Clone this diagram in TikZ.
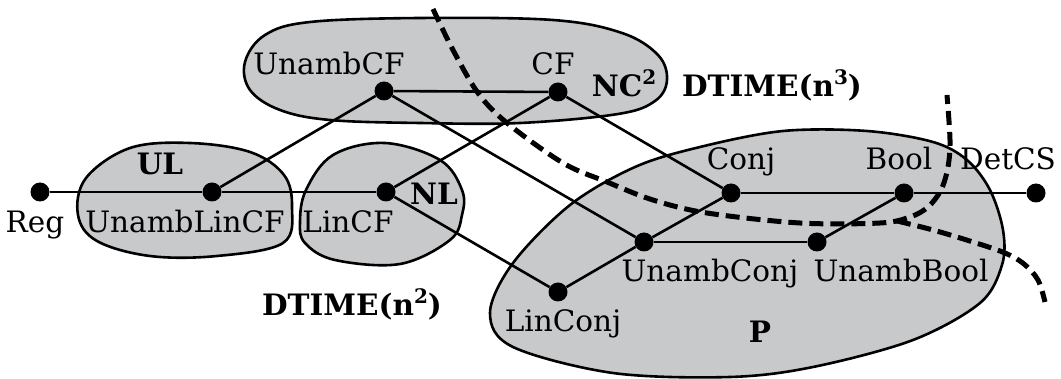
\documentclass[tikz,border=0pt]{standalone}
\usepackage{fontspec}
\setmainfont{DejaVu Serif}
\definecolor{blobgray}{RGB}{200,201,203}
\newcommand{\supd}[1]{\raisebox{0.42em}{\fontsize{20}{20}\selectfont #1}}
\begin{document}
\begin{tikzpicture}[x=1pt,y=-1pt,
  dot/.style={circle,fill=black,inner sep=0pt,minimum size=19pt},
  lbl/.style={font=\fontsize{29.5}{31}\selectfont, inner sep=0pt, anchor=base},
  blbl/.style={font=\fontsize{29.5}{31}\selectfont\bfseries, inner sep=0pt, anchor=base},
  edge/.style={line width=2.6pt},
  blob/.style={fill=blobgray, draw=black, line width=2.6pt},
  sep/.style={line width=5pt, dash pattern=on 14pt off 7pt}]
\useasboundingbox (0,0) rectangle (1061,379);

% blobs
\draw[blob] plot[smooth cycle, tension=0.6] coordinates {
  (245,62) (265,35) (310,22) (420,18) (553,20) (622,33) (658,55) (667,80)
  (655,101) (618,114) (520,123) (420,123) (330,120) (280,110) (250,90)};
\draw[blob] plot[smooth cycle, tension=0.6] coordinates {
  (86,178) (78,215) (97,241) (150,256) (217,256) (283,243) (292,207)
  (284,175) (250,152) (190,143) (130,148)};
\draw[blob] plot[smooth cycle, tension=0.6] coordinates {
  (300,222) (306,190) (333,155) (385,143) (440,160) (462,190) (462,215)
  (450,240) (400,264) (335,260) (305,243)};
\draw[blob] plot[smooth cycle, tension=0.55] coordinates {
  (700,147) (783,131) (867,131) (933,142) (967,160) (990,190) (1003,230)
  (1002,265) (980,303) (913,340) (813,367) (730,377) (613,373) (513,347)
  (490,313) (513,263) (570,205) (635,167)};

% separating curves
\draw[sep] plot[smooth, tension=0.55] coordinates {
  (433,9) (453,50) (478,93) (507,123) (563,163) (607,182) (653,200)
  (707,213) (800,223) (880,223) (910,217) (928,207) (941,190) (948,167)
  (950,140) (947,95)};
\draw[sep] plot[smooth, tension=0.55] coordinates {
  (897,221) (933,230) (973,242) (1005,253) (1024,264) (1038,280) (1045,302)};

% dots
\node[dot] (reg)   at (40,192)  {};
\node[dot] (ulcf)  at (212,192) {};
\node[dot] (lcf)   at (386,192) {};
\node[dot] (ucf)   at (384,91)  {};
\node[dot] (cf)    at (558,92)  {};
\node[dot] (conj)  at (731,193) {};
\node[dot] (bool)  at (904,193) {};
\node[dot] (detcs) at (1036,193) {};
\node[dot] (uconj) at (644,242) {};
\node[dot] (ubool) at (817,242) {};
\node[dot] (lconj) at (558,292) {};

% edges
\draw[edge] (reg) -- (ulcf) -- (lcf);
\draw[edge] (ucf) -- (cf);
\draw[edge] (ulcf) -- (ucf);
\draw[edge] (lcf) -- (cf);
\draw[edge] (lcf) -- (lconj);
\draw[edge] (ucf) -- (uconj);
\draw[edge] (cf) -- (conj);
\draw[edge] (conj) -- (bool) -- (detcs);
\draw[edge] (uconj) -- (ubool);
\draw[edge] (lconj) -- (uconj) -- (conj);
\draw[edge] (ubool) -- (bool);

% labels
\node[lbl] (treg)   at (35,233)  {Reg};
\node[lbl] (tulcf)  at (185,233) {UnambLinCF};
\node[lbl] (tlcf)   at (348,233) {LinCF};
\node[lbl] (tucf)   at (329,75)  {UnambCF};
\node[lbl] (tcf)    at (553,75)  {CF};
\node[lbl] (tconj)  at (741,170) {Conj};
\node[lbl] (tbool)  at (899,170) {Bool};
\node[lbl] (tdetcs) at (1008,170) {DetCS};
\node[lbl] (tuconj) at (710,282) {UnambConj};
\node[lbl] (tubool) at (901,282) {UnambBool};
\node[lbl] (tlconj) at (563,332) {LinConj};

\node[blbl] (tnc)  at (624,97)  {NC\supd{2}};
\node[blbl] (tul)  at (160,175) {UL};
\node[blbl] (tnl)  at (434,205) {NL};
\node[blbl] (tp)   at (760,343) {P};
\node[blbl] (td2)  at (352,316) {DTIME(n\supd{2})};
\node[blbl] (td3)  at (772,97)  {DTIME(n\supd{3})};
\end{tikzpicture}
\end{document}
